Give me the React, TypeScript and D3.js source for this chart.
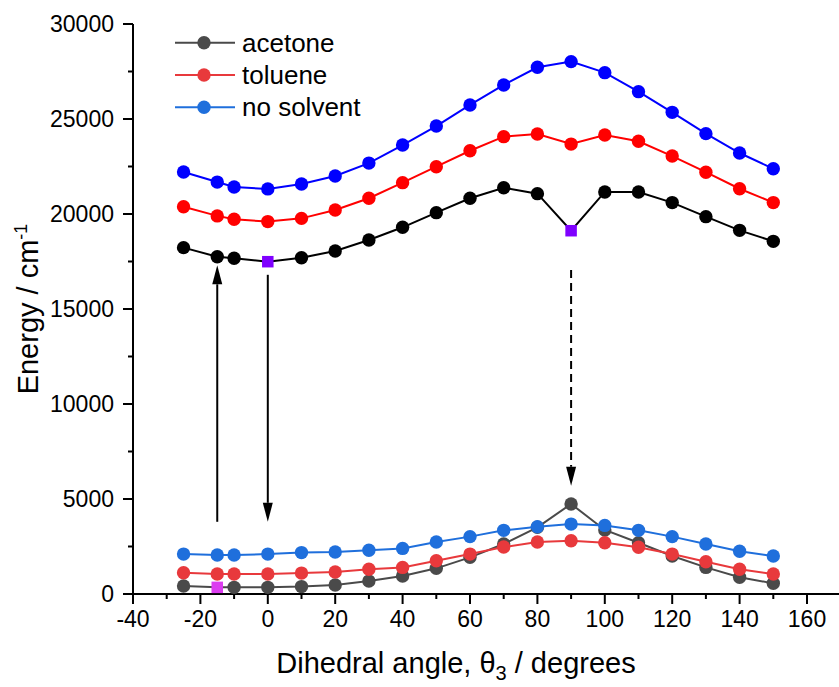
import React from "react";
import * as d3 from "d3";

// Dihedral angles (degrees)
const angles = [-25, -15, -10, 0, 10, 20, 30, 40, 50, 60, 70, 80, 90, 100, 110, 120, 130, 140, 150];

// Excited-state energies (cm^-1)
const excNoSolvent = [22210, 21680, 21420, 21320, 21580, 22000, 22680, 23630, 24630, 25740, 26790, 27720, 28020, 27440, 26440, 25350, 24230, 23210, 22380];
const excToluene = [20380, 19900, 19720, 19600, 19770, 20210, 20830, 21650, 22490, 23330, 24070, 24210, 23680, 24160, 23830, 23050, 22200, 21330, 20600];
const excAcetone = [18230, 17750, 17670, 17490, 17700, 18050, 18630, 19300, 20070, 20830, 21380, 21070, 19120, 21160, 21160, 20600, 19860, 19140, 18560];

// Ground-state energies (cm^-1)
const gsNoSolvent = [2100, 2050, 2050, 2100, 2180, 2210, 2300, 2400, 2740, 3020, 3350, 3540, 3680, 3610, 3350, 3020, 2630, 2250, 2000];
const gsToluene = [1120, 1050, 1050, 1050, 1100, 1160, 1300, 1400, 1750, 2100, 2470, 2740, 2800, 2700, 2460, 2100, 1700, 1300, 1050];
const gsAcetone = [420, 350, 350, 350, 390, 470, 680, 950, 1350, 1930, 2630, 3510, 4740, 3370, 2700, 2000, 1400, 880, 560];

// Highlighted geometries (drawn as squares)
const excSquareAngles = [0, 90];
const gsSquareAngles = [-15];

// Transitions: angle, start energy, end energy, dashed
const arrowAngles = [-15, 0, 90];
const arrowFrom = [3800, 16800, 17050];
const arrowTo = [17300, 3800, 5700];
const arrowDashed = [false, false, true];

const legendLabels = ["acetone", "toluene", "no solvent"];
const xTicks = [-40, -20, 0, 20, 40, 60, 80, 100, 120, 140, 160];
const yTicks = [0, 5000, 10000, 15000, 20000, 25000, 30000];

const W = 839;
const H = 687;
const FONT = "'Liberation Sans', Arial, sans-serif";

export default function App() {
  const x = d3.scaleLinear().domain([-40, 170]).range([133, 840.7]);
  const y = d3.scaleLinear().domain([0, 30000]).range([594, 24]);

  const line = (vals: number[]) =>
    d3.line<number>().x((_, i) => x(angles[i])).y((v) => y(v))(vals) || "";

  const lowerColors = ["#4a4a4a", "#e8393c", "#1f6fdc"];
  const upperColors = ["#000000", "#ff0000", "#0000ff"];
  const upperSeries = [excAcetone, excToluene, excNoSolvent];
  const lowerSeries = [gsAcetone, gsToluene, gsNoSolvent];

  const r = 6.7;
  const sq = 11.5;

  const renderSeries = (
    vals: number[],
    color: string,
    squares: number[],
    squareColor: string,
    key: string
  ) => (
    <g key={key}>
      <path d={line(vals)} fill="none" stroke={color} strokeWidth={2} />
      {vals.map((v, i) =>
        squares.includes(angles[i]) ? (
          <rect
            key={i}
            x={x(angles[i]) - sq / 2}
            y={y(v) - sq / 2}
            width={sq}
            height={sq}
            fill={squareColor}
          />
        ) : (
          <circle key={i} cx={x(angles[i])} cy={y(v)} r={r} fill={color} />
        )
      )}
    </g>
  );

  const xMinor = d3.range(-40, 171, 10);
  const yMinor = d3.range(0, 30001, 2500);

  return (
    <svg
      width={W}
      height={H}
      style={{ position: "absolute", left: 0, top: 0, background: "#fff" }}
      fontFamily={FONT}
    >
      {/* axes */}
      <line x1={x(-40)} x2={W} y1={y(0)} y2={y(0)} stroke="#000" strokeWidth={2} />
      <line x1={x(-40)} x2={x(-40)} y1={y(0)} y2={y(30000)} stroke="#000" strokeWidth={2} />
      {xMinor.map((t) => (
        <line
          key={"xm" + t}
          x1={x(t)}
          x2={x(t)}
          y1={y(0)}
          y2={y(0) + (t % 20 === 0 ? 10 : 5)}
          stroke="#000"
          strokeWidth={2}
        />
      ))}
      {yMinor.map((t) => (
        <line
          key={"ym" + t}
          x1={x(-40)}
          x2={x(-40) - (t % 5000 === 0 ? 10 : 5)}
          y1={y(t)}
          y2={y(t)}
          stroke="#000"
          strokeWidth={2}
        />
      ))}
      {xTicks.map((t) => (
        <text key={"xt" + t} x={x(t)} y={627} textAnchor="middle" fontSize={23}>
          {t}
        </text>
      ))}
      {yTicks.map((t) => (
        <text key={"yt" + t} x={114} y={y(t) + 8} textAnchor="end" fontSize={23}>
          {t}
        </text>
      ))}
      <text x={456} y={673} textAnchor="middle" fontSize={29}>
        Dihedral angle, θ
        <tspan fontSize={20} dy={7}>3</tspan>
        <tspan dy={-7}> / degrees</tspan>
      </text>
      <text transform={`translate(38,${(y(0) + y(30000)) / 2}) rotate(-90)`} textAnchor="middle" fontSize={29}>
        Energy / cm
        <tspan fontSize={18} dy={-11}>-1</tspan>
      </text>

      {/* ground-state curves */}
      {lowerSeries.map((s, k) =>
        renderSeries(s, lowerColors[k], k === 0 ? gsSquareAngles : [], "#dc3cf0", "gs" + k)
      )}
      {/* excited-state curves */}
      {upperSeries.map((s, k) =>
        renderSeries(s, upperColors[k], k === 0 ? excSquareAngles : [], "#7f00ff", "ex" + k)
      )}

      {/* transitions */}
      {arrowAngles.map((a, i) => {
        const ax = x(a);
        const y0 = y(arrowFrom[i]);
        const y1 = y(arrowTo[i]);
        const dir = y1 > y0 ? 1 : -1;
        const headLen = 19;
        const headHalf = 5;
        return (
          <g key={"ar" + i}>
            <line
              x1={ax}
              x2={ax}
              y1={y0}
              y2={y1 - dir * headLen}
              stroke="#000"
              strokeWidth={2}
              strokeDasharray={arrowDashed[i] ? "8,5" : undefined}
            />
            <path
              d={`M${ax},${y1} L${ax - headHalf},${y1 - dir * headLen} L${ax + headHalf},${y1 - dir * headLen} Z`}
              fill="#000"
            />
          </g>
        );
      })}

      {/* legend */}
      {legendLabels.map((lab, i) => {
        const ly = 42.7 + i * 32.3;
        return (
          <g key={"lg" + i}>
            <line x1={175} x2={235} y1={ly} y2={ly} stroke={lowerColors[i]} strokeWidth={2} />
            <circle cx={204} cy={ly} r={r} fill={lowerColors[i]} />
            <text x={242} y={ly + 9} fontSize={26}>
              {lab}
            </text>
          </g>
        );
      })}
    </svg>
  );
}
